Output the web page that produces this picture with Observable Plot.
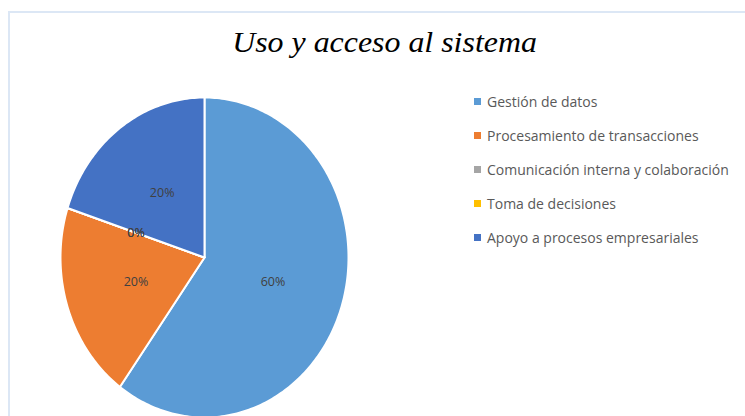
<!DOCTYPE html>
<html>
<head>
<meta charset="utf-8">
<script src="https://cdn.jsdelivr.net/npm/d3@7"></script>
<script src="https://cdn.jsdelivr.net/npm/@observablehq/plot@0.6"></script>
<style>
  html, body { margin: 0; padding: 0; background: #fff; }
  #wrap { position: relative; width: 745px; height: 416px; overflow: hidden; }
  #frame { position: absolute; left: 8px; top: 11px; width: 760px; height: 430px; border: 2px solid #dce7f5; box-sizing: border-box; }
  #title { position: absolute; left: 0; width: 769px; top: 26px; text-align: center;
           font-family: "Liberation Serif", "Times New Roman", serif; font-style: italic; font-size: 29px; color: #000; }
  #title span { display: inline-block; transform: scaleX(1.1); transform-origin: center; }
  #legend { position: absolute; left: 474px; top: 92px; font-family: "Open Sans", sans-serif; font-size: 14px; color: #595959; }
  #legend .row { display: flex; align-items: center; height: 34px; margin-top: -8px; margin-bottom: 8px; }
  #legend .sw { width: 7px; height: 7px; margin-right: 6px; }
  #chart { position: absolute; left: 0; top: 0; }
</style>
</head>
<body>
<div id="wrap">
  <div id="frame"></div>
  <div id="chart"></div>
  <div id="title"><span>Uso y acceso al sistema</span></div>
  <div id="legend"></div>
</div>
<script>
const categories = ["Gestión de datos", "Procesamiento de transacciones", "Comunicación interna y colaboración", "Toma de decisiones", "Apoyo a procesos empresariales"];
const values = [60, 20, 0, 0, 20];
const colors = ["#5b9bd5", "#ed7d31", "#a5a5a5", "#ffc000", "#4472c4"];

const total = d3.sum(values);
const polys = [];
const labels = [];
let acc = 0;
categories.forEach((name, i) => {
  const a0 = acc / total * 2 * Math.PI;
  acc += values[i];
  const a1 = acc / total * 2 * Math.PI;
  polys.push({name, x: 0, y: 0, c: colors[i]});
  const n = Math.max(1, Math.ceil((a1 - a0) / (Math.PI / 180)));
  for (let k = 0; k <= n; k++) {
    const a = a0 + (a1 - a0) * k / n;
    polys.push({name, x: Math.sin(a), y: Math.cos(a), c: colors[i]});
  }
  polys.push({name, x: 0, y: 0, c: colors[i]});
  const am = (a0 + a1) / 2;
  labels.push({x: 0.5 * Math.sin(am), y: 0.5 * Math.cos(am), t: values[i] + "%"});
});

const cx = 204, cy = 257, rx = 144, ry = 160;
const plot = Plot.plot({
  width: 745,
  height: 416,
  margin: 0,
  style: {background: "transparent", overflow: "visible"},
  x: {domain: [-1, 1], range: [cx - rx, cx + rx], axis: null},
  y: {domain: [-1, 1], range: [cy + ry, cy - ry], axis: null},
  marks: [
    Plot.line(polys, {x: "x", y: "y", z: "name", fill: "c", stroke: "#fff", strokeWidth: 2, curve: "linear", strokeLinejoin: "round"}),
    Plot.text(labels, {x: "x", y: "y", text: "t", fill: "#404040", fontSize: 12.5, fontFamily: "Open Sans, sans-serif"})
  ]
});
plot.style.overflow = "visible";
document.getElementById("chart").appendChild(plot);

const leg = d3.select("#legend");
categories.forEach((name, i) => {
  const row = leg.append("div").attr("class", "row");
  row.append("div").attr("class", "sw").style("background", colors[i]);
  row.append("span").text(name);
});
</script>
</body>
</html>
